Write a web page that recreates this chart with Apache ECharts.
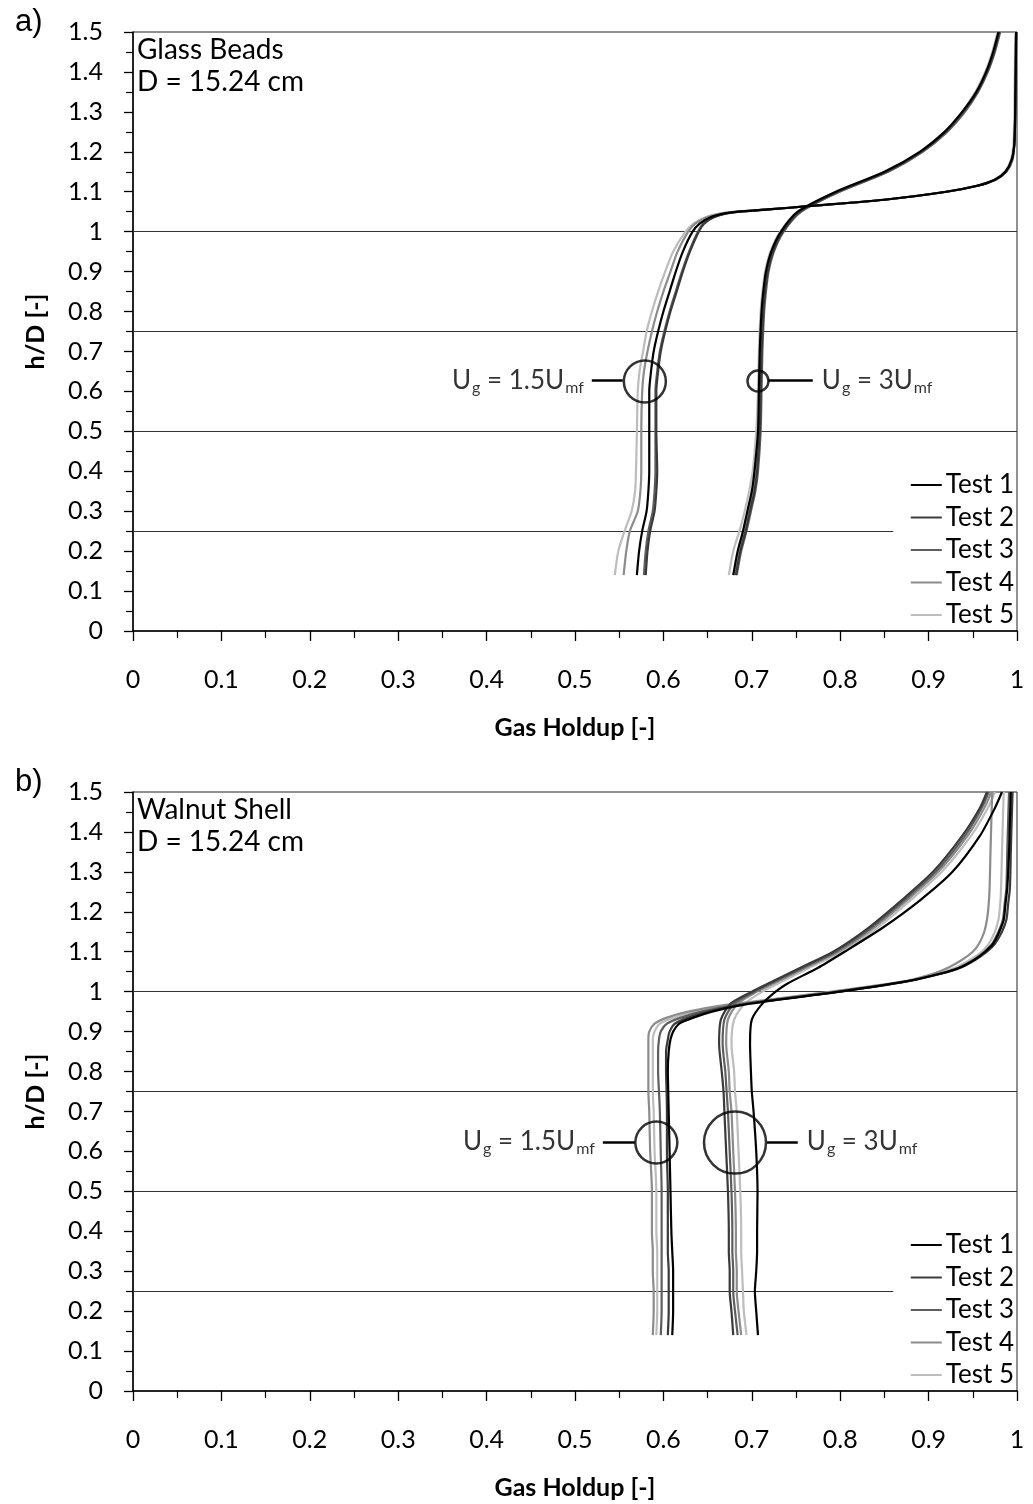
<!DOCTYPE html>
<html><head><meta charset="utf-8">
<script src="https://cdn.jsdelivr.net/npm/echarts@6/dist/echarts.min.js"></script>
<style>html,body{margin:0;padding:0;background:#fff}#c{width:1033px;height:1504px}</style>
</head><body><div id="c"></div>
<script>
// ---------------- DATA ----------------
const testNames = ['Test 1', 'Test 2', 'Test 3', 'Test 4', 'Test 5'];

// (a) Glass beads, Ug = 1.5 Umf : heights h/D and gas holdup per test
const hALow = [0.14,0.2,0.25,0.3,0.35,0.4,0.5,0.6,0.65,0.7,0.75,0.8,0.85,0.9,0.95,1.0,1.02,1.035,1.045,1.05,1.055,1.065,1.08,1.1,1.115,1.13,1.15,1.18,1.22,1.3,1.5];
const aLow1 = [0.570,0.5725,0.576,0.581,0.583,0.584,0.584,0.584,0.586,0.589,0.594,0.600,0.607,0.614,0.622,0.633,0.641,0.652,0.668,0.685,0.715,0.770,0.850,0.920,0.955,0.975,0.987,0.994,0.997,0.998,0.999];
const aLow2 = [0.580,0.582,0.585,0.590,0.592,0.593,0.592,0.592,0.594,0.597,0.602,0.608,0.615,0.622,0.630,0.640,0.646,0.656,0.670,0.686,0.716,0.770,0.850,0.920,0.955,0.975,0.987,0.994,0.997,0.998,0.999];
const aLow3 = [0.578,0.580,0.583,0.588,0.590,0.591,0.591,0.591,0.593,0.596,0.601,0.607,0.614,0.621,0.629,0.639,0.645,0.655,0.670,0.686,0.716,0.771,0.851,0.921,0.956,0.976,0.988,0.995,0.997,0.998,0.999];
const aLow4 = [0.555,0.558,0.562,0.571,0.574,0.575,0.575,0.576,0.578,0.582,0.587,0.593,0.600,0.608,0.616,0.628,0.636,0.648,0.665,0.684,0.714,0.770,0.850,0.920,0.955,0.975,0.987,0.994,0.997,0.998,0.999];
const aLow5 = [0.545,0.549,0.556,0.564,0.568,0.569,0.570,0.571,0.573,0.577,0.581,0.587,0.594,0.602,0.611,0.625,0.634,0.646,0.663,0.683,0.713,0.769,0.849,0.919,0.954,0.974,0.986,0.993,0.996,0.997,0.998];

// (a) Glass beads, Ug = 3 Umf
const hAHigh = [0.14,0.2,0.25,0.3,0.35,0.4,0.5,0.6,0.7,0.8,0.85,0.9,0.95,1.0,1.05,1.1,1.15,1.2,1.25,1.3,1.35,1.4,1.45,1.5];
const aHigh1 = [0.679,0.684,0.690,0.695,0.700,0.703,0.707,0.708,0.709,0.711,0.713,0.716,0.722,0.733,0.752,0.795,0.850,0.890,0.918,0.938,0.954,0.965,0.973,0.979];
const aHigh2 = [0.682,0.687,0.693,0.698,0.703,0.706,0.709,0.710,0.711,0.713,0.715,0.718,0.724,0.735,0.754,0.797,0.852,0.891,0.919,0.939,0.955,0.966,0.974,0.980];
const aHigh3 = [0.683,0.688,0.694,0.699,0.704,0.707,0.710,0.711,0.712,0.714,0.716,0.719,0.725,0.736,0.756,0.799,0.854,0.893,0.921,0.941,0.956,0.967,0.975,0.981];
const aHigh4 = [0.681,0.686,0.692,0.697,0.702,0.705,0.709,0.710,0.711,0.713,0.715,0.718,0.724,0.735,0.755,0.799,0.854,0.893,0.920,0.940,0.955,0.966,0.974,0.980];
const aHigh5 = [0.674,0.679,0.686,0.692,0.697,0.701,0.705,0.707,0.708,0.710,0.712,0.715,0.721,0.732,0.752,0.796,0.851,0.890,0.918,0.938,0.953,0.964,0.972,0.978];

// (b) Walnut shell, Ug = 1.5 Umf
const hBLow = [0.14,0.2,0.25,0.3,0.35,0.4,0.5,0.6,0.7,0.75,0.8,0.85,0.88,0.9,0.92,0.935,0.95,0.965,0.98,1.0,1.025,1.045,1.06,1.08,1.1,1.12,1.15,1.18,1.22,1.26,1.35,1.43,1.5];
const bLow1 = [0.610,0.611,0.611,0.611,0.610,0.609,0.608,0.607,0.606,0.6055,0.605,0.606,0.608,0.611,0.618,0.634,0.655,0.685,0.730,0.800,0.873,0.913,0.935,0.952,0.964,0.973,0.980,0.985,0.987,0.989,0.991,0.992,0.993];
const bLow2 = [0.605,0.606,0.606,0.606,0.605,0.605,0.605,0.604,0.604,0.6036,0.603,0.603,0.605,0.607,0.613,0.628,0.650,0.682,0.729,0.799,0.874,0.914,0.936,0.953,0.966,0.975,0.983,0.988,0.990,0.992,0.993,0.994,0.995];
const bLow3 = [0.597,0.598,0.598,0.598,0.598,0.598,0.598,0.597,0.596,0.595,0.594,0.594,0.595,0.597,0.604,0.620,0.643,0.678,0.728,0.798,0.873,0.912,0.934,0.951,0.963,0.972,0.979,0.984,0.986,0.988,0.989,0.990,0.991];
const bLow4 = [0.588,0.589,0.589,0.588,0.588,0.587,0.587,0.585,0.584,0.583,0.583,0.583,0.583,0.584,0.590,0.604,0.628,0.665,0.720,0.790,0.870,0.905,0.922,0.938,0.950,0.957,0.963,0.966,0.968,0.969,0.970,0.971,0.972];
const bLow5 = [0.592,0.593,0.593,0.593,0.593,0.592,0.592,0.590,0.589,0.588,0.588,0.588,0.588,0.590,0.596,0.612,0.636,0.672,0.725,0.795,0.872,0.910,0.930,0.947,0.960,0.968,0.975,0.979,0.981,0.982,0.983,0.984,0.985];

// (b) Walnut shell, Ug = 3 Umf
const hBHigh = [0.14,0.2,0.25,0.3,0.35,0.4,0.5,0.6,0.7,0.75,0.8,0.87,0.93,0.97,1.0,1.02,1.06,1.1,1.16,1.23,1.3,1.39,1.46,1.5];
const bHigh1 = [0.707,0.705,0.7035,0.705,0.706,0.706,0.7065,0.705,0.702,0.700,0.699,0.698,0.700,0.712,0.727,0.740,0.775,0.805,0.848,0.891,0.927,0.958,0.975,0.983];
const bHigh2 = [0.679,0.677,0.675,0.675,0.674,0.674,0.673,0.671,0.669,0.668,0.666,0.663,0.665,0.676,0.700,0.718,0.755,0.792,0.832,0.870,0.905,0.938,0.958,0.966];
const bHigh3 = [0.684,0.681,0.679,0.679,0.678,0.678,0.677,0.675,0.673,0.6715,0.670,0.667,0.669,0.680,0.703,0.721,0.758,0.795,0.835,0.873,0.908,0.941,0.960,0.968];
const bHigh4 = [0.688,0.685,0.683,0.683,0.682,0.682,0.681,0.679,0.677,0.675,0.674,0.671,0.673,0.684,0.706,0.724,0.761,0.798,0.838,0.876,0.911,0.944,0.963,0.971];
const bHigh5 = [0.694,0.691,0.690,0.689,0.688,0.688,0.687,0.685,0.683,0.681,0.680,0.677,0.680,0.692,0.712,0.729,0.765,0.802,0.842,0.880,0.915,0.948,0.967,0.975];

// reference levels (h/D) drawn across each plot; the last one stops before the legend
const refLevels = [1.0, 0.75, 0.5, 0.25];
const refEnds = [1.0, 1.0, 1.0, 0.86];

// annotation anchors (gas holdup, h/D)
const circlesA = [[0.579, 0.625], [0.707, 0.626]];
const leadersA = [[0.519, 0.554, 0.627], [0.7185, 0.769, 0.627]];
const circlesB = [[0.592, 0.622], [0.681, 0.622]];
const leadersB = [[0.5315, 0.5677, 0.624], [0.717, 0.752, 0.624]];

// ---------------- CHART ----------------
const FONT = 'Lato, "Open Sans", sans-serif';
const colors = ['#000000', '#3a3a3a', '#5e5e5e', '#8c8c8c', '#bdbdbd'];
const chart = echarts.init(document.getElementById('c'), null, {renderer: 'canvas'});

function curve(name, idx, H, V, g) {
  return {
    type: 'line', name: name, xAxisIndex: g, yAxisIndex: g,
    data: H.map((h, i) => [V[i], h]),
    showSymbol: false, symbol: 'none', smooth: 0.25,
    color: colors[idx],
    lineStyle: {color: colors[idx], width: 2.2},
    z: 10 - idx, animation: false
  };
}

const groups = [
  [0, hALow, [aLow1, aLow2, aLow3, aLow4, aLow5]],
  [0, hAHigh, [aHigh1, aHigh2, aHigh3, aHigh4, aHigh5]],
  [1, hBLow, [bLow1, bLow2, bLow3, bLow4, bLow5]],
  [1, hBHigh, [bHigh1, bHigh2, bHigh3, bHigh4, bHigh5]]
];
const series = [];
groups.forEach(([g, H, tests]) => {
  for (let k = tests.length - 1; k >= 0; k--) series.push(curve(testNames[k], k, H, tests[k], g));
});

const rich = {
  n: {fontSize: 26, fontFamily: FONT, color: '#000', lineHeight: 30},
  s: {fontSize: 16, fontFamily: FONT, color: '#000', lineHeight: 30, verticalAlign: 'bottom', padding: [0, 0, 0, 1]}
};
const lowText = '{n|U}{s|g}{n| = 1.5U}{s|mf}';
const highText = '{n|U}{s|g}{n| = 3U}{s|mf}';

function annotations(g, circles, leaders, sizes) {
  return [
    { // reference lines
      type: 'line', xAxisIndex: g, yAxisIndex: g, data: [], silent: true, animation: false,
      markLine: {
        symbol: 'none', silent: true, animation: false, label: {show: false},
        lineStyle: {color: '#333', width: 1.2, type: 'solid'},
        data: refLevels.map((lv, i) => [{coord: [0, lv]}, {coord: [refEnds[i], lv]}])
      }
    },
    { // leader lines
      type: 'line', xAxisIndex: g, yAxisIndex: g, data: [], silent: true, animation: false,
      markLine: {
        symbol: 'none', silent: true, animation: false, label: {show: false},
        lineStyle: {color: '#000', width: 2.5, type: 'solid'},
        data: leaders.map(l => [{coord: [l[0], l[2]]}, {coord: [l[1], l[2]]}])
      }
    },
    { // circles
      type: 'scatter', xAxisIndex: g, yAxisIndex: g, silent: true, animation: false, z: 20,
      symbol: 'circle',
      itemStyle: {color: 'rgba(0,0,0,0)', borderColor: '#000', borderWidth: 2.5},
      data: circles.map((c, i) => ({value: c, symbolSize: sizes[i]}))
    },
    { // texts
      type: 'scatter', xAxisIndex: g, yAxisIndex: g, silent: true, animation: false, symbolSize: 0, z: 20,
      data: [
        {value: [leaders[0][0], leaders[0][2]], label: {show: true, position: 'left', distance: 8, formatter: lowText, rich: rich}},
        {value: [leaders[1][1], leaders[1][2]], label: {show: true, position: 'right', distance: 9, formatter: highText, rich: rich}}
      ]
    }
  ];
}
series.push(...annotations(0, circlesA, leadersA, [42, 21]));
series.push(...annotations(1, circlesB, leadersB, [42, 62]));

function xAxis(g) {
  return {
    type: 'value', gridIndex: g, min: 0, max: 1, interval: 0.1,
    name: 'Gas Holdup [-]', nameLocation: 'middle', nameGap: 84,
    nameTextStyle: {fontFamily: FONT, fontSize: 25, fontWeight: 'bold', color: '#000'},
    axisLine: {show: true, onZero: false, lineStyle: {color: '#000', width: 1.5}},
    axisTick: {show: true, length: 10, lineStyle: {color: '#000', width: 1.3}},
    minorTick: {show: true, splitNumber: 2, length: 7, lineStyle: {color: '#000', width: 1.2}},
    axisLabel: {fontFamily: FONT, fontSize: 25, color: '#000', margin: 36},
    splitLine: {show: false}
  };
}
function yAxis(g) {
  return {
    type: 'value', gridIndex: g, min: 0, max: 1.5, interval: 0.1,
    name: 'h/D [-]', nameLocation: 'middle', nameGap: 85,
    nameTextStyle: {fontFamily: FONT, fontSize: 25, fontWeight: 'bold', color: '#000'},
    axisLine: {show: true, onZero: false, lineStyle: {color: '#000', width: 1.5}},
    axisTick: {show: true, length: 9, lineStyle: {color: '#000', width: 1.3}},
    minorTick: {show: true, splitNumber: 2, length: 7, lineStyle: {color: '#000', width: 1.2}},
    axisLabel: {fontFamily: FONT, fontSize: 25, color: '#000', margin: 30},
    splitLine: {show: false}
  };
}
function legend(top) {
  return {
    data: testNames, orient: 'vertical', right: 19, top: top, padding: 0,
    icon: 'rect', itemWidth: 31, itemHeight: 2, itemGap: 2.5, selectedMode: false,
    textStyle: {fontFamily: FONT, fontSize: 26, color: '#000', lineHeight: 30, padding: [0, 0, 0, -1]}
  };
}

chart.setOption({
  animation: false,
  backgroundColor: '#fff',
  title: [
    {text: 'a)', left: 10, top: 2, textStyle: {fontFamily: '"Liberation Sans", Arial, sans-serif', fontSize: 31, fontWeight: 'normal', color: '#000'}},
    {text: 'b)', left: 10, top: 762, textStyle: {fontFamily: '"Liberation Sans", Arial, sans-serif', fontSize: 31, fontWeight: 'normal', color: '#000'}},
    {text: 'Glass Beads\nD = 15.24 cm', left: 137, top: 34, padding: 0, textStyle: {fontFamily: FONT, fontSize: 28, lineHeight: 32, fontWeight: 'normal', color: '#000'}},
    {text: 'Walnut Shell\nD = 15.24 cm', left: 137, top: 794, padding: 0, textStyle: {fontFamily: FONT, fontSize: 28, lineHeight: 32, fontWeight: 'normal', color: '#000'}}
  ],
  grid: [
    {left: 133, right: 16, top: 32, height: 599, show: true, borderColor: '#222', borderWidth: 1, backgroundColor: 'transparent'},
    {left: 133, right: 16, top: 792, height: 599, show: true, borderColor: '#222', borderWidth: 1, backgroundColor: 'transparent'}
  ],
  xAxis: [xAxis(0), xAxis(1)],
  yAxis: [yAxis(0), yAxis(1)],
  legend: [legend(470), legend(1230)],
  series: series
});
</script>
</body></html>
